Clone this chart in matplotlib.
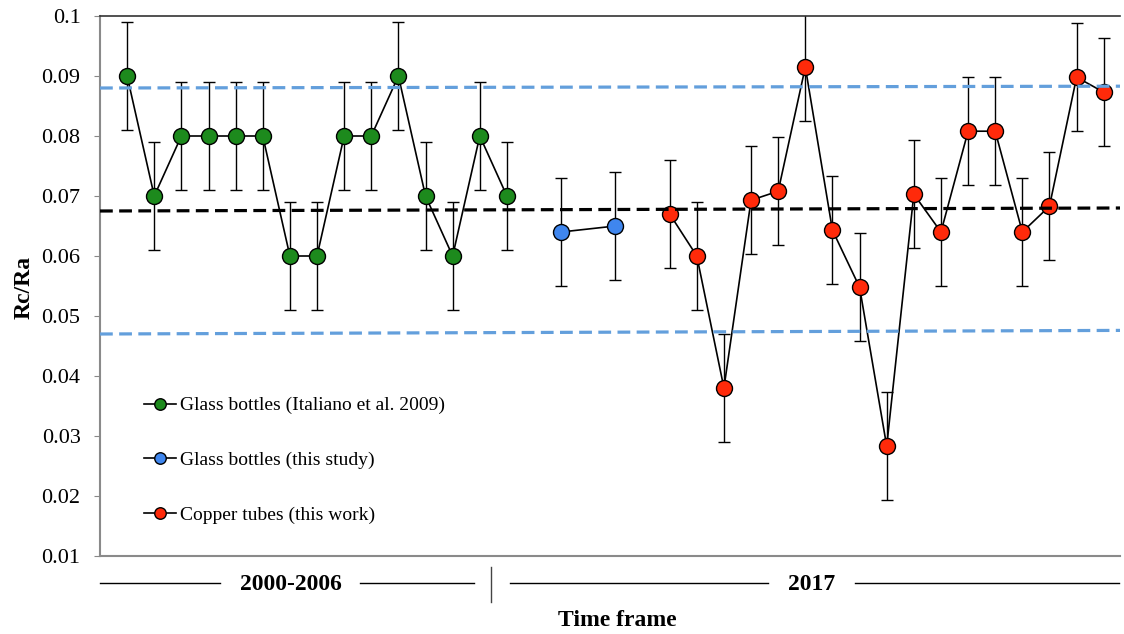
import numpy as np
import matplotlib
matplotlib.use("Agg")
import matplotlib.pyplot as plt
from matplotlib.lines import Line2D

plt.rcParams['font.family'] = ['Liberation Serif', 'DejaVu Serif']

# sample order along the time axis
green_x = list(range(1, 16))
green_y = [0.09, 0.07, 0.08, 0.08, 0.08, 0.08, 0.06, 0.06, 0.08, 0.08,
           0.09, 0.07, 0.06, 0.08, 0.07]
blue_x = [17, 19]
blue_y = [0.064, 0.065]
red_x = list(range(21, 38))
red_y = [0.067, 0.060, 0.038, 0.0693, 0.0708, 0.0915, 0.0643, 0.0548,
         0.0283, 0.0703, 0.064, 0.0808, 0.0808, 0.064, 0.0683, 0.0898, 0.0873]
err = 0.009

# reference lines (left value, right value)
mean_line = [0.0675, 0.0680]
upper_line = [0.0880, 0.0883]
lower_line = [0.0470, 0.0476]

labels = ['Glass bottles (Italiano et al. 2009)',
          'Glass bottles (this study)',
          'Copper tubes (this work)']
colors = ['#1d8a1d', '#3f86ee', '#ff2a0a']

fig = plt.figure(figsize=(11.24, 6.34), dpi=100)
ax = fig.add_axes([100 / 1124, 1 - 556 / 634, 1020 / 1124, 540 / 634])

xmin, xmax = 0.0, 37.6
series = [(green_x, green_y), (blue_x, blue_y), (red_x, red_y)]
for (xs, ys), c, lab in zip(series, colors, labels):
    ax.errorbar(xs, ys, yerr=err, fmt='none', ecolor='black', elinewidth=1,
                capsize=4.2, capthick=1, zorder=2)
    ax.plot(xs, ys, '-o', color='black', lw=1.2, markersize=11.5,
            markerfacecolor=c, markeredgecolor='black', markeredgewidth=1,
            label=lab, zorder=3)

ax.plot([xmin, xmax], mean_line, '--', color='black', lw=2.3,
        dashes=(4, 2), zorder=4)
ax.plot([xmin, xmax], upper_line, '--', color='#639fdc', lw=2.3,
        dashes=(4, 2), zorder=4)
ax.plot([xmin, xmax], lower_line, '--', color='#639fdc', lw=2.3,
        dashes=(4, 2), zorder=4)

ax.set_xlim(xmin, xmax)
ax.set_ylim(0.01, 0.1)
ax.set_yticks(np.arange(0.01, 0.1001, 0.01))
ax.set_yticklabels(['0.01', '0.02', '0.03', '0.04', '0.05', '0.06',
                    '0.07', '0.08', '0.09', '0.1'])
ax.set_xticks([])
ax.tick_params(axis='y', labelsize=16, length=4, color='#888888', pad=10)
for s in ['left', 'bottom']:
    ax.spines[s].set_color('#8a8a8a')
    ax.spines[s].set_linewidth(1.5)
ax.spines['top'].set_color('#333333')
ax.spines['top'].set_linewidth(1.2)
ax.spines['right'].set_visible(False)

ax.set_ylabel('Rc/Ra', fontsize=17, fontweight='bold')
ax.yaxis.set_label_coords(-0.064, 0.498)

ax.legend(loc='upper left', bbox_to_anchor=(0.043, 0.295), frameon=False,
          fontsize=14, labelspacing=1.9, handlelength=1.65,
          handletextpad=0.2, markerscale=0.72, borderpad=0, borderaxespad=0)

# time frame annotations below the axis
def fx(px):
    return px / 1124

def fy(py):
    return 1 - py / 634

for x0, x1 in [(100, 220), (360, 474), (510, 768), (855, 1119)]:
    fig.add_artist(Line2D([fx(x0), fx(x1)], [fy(583), fy(583)],
                          color='black', lw=1))
fig.add_artist(Line2D([fx(491), fx(491)], [fy(567), fy(602)],
                      color='#444444', lw=1))
fig.text(fx(291), fy(584), '2000-2006', ha='center', va='center',
         fontsize=17, fontweight='bold')
fig.text(fx(812), fy(584), '2017', ha='center', va='center',
         fontsize=17, fontweight='bold')
fig.text(fx(617), fy(621), 'Time frame', ha='center', va='center',
         fontsize=17, fontweight='bold')

fig.savefig('out.png', dpi=100)
